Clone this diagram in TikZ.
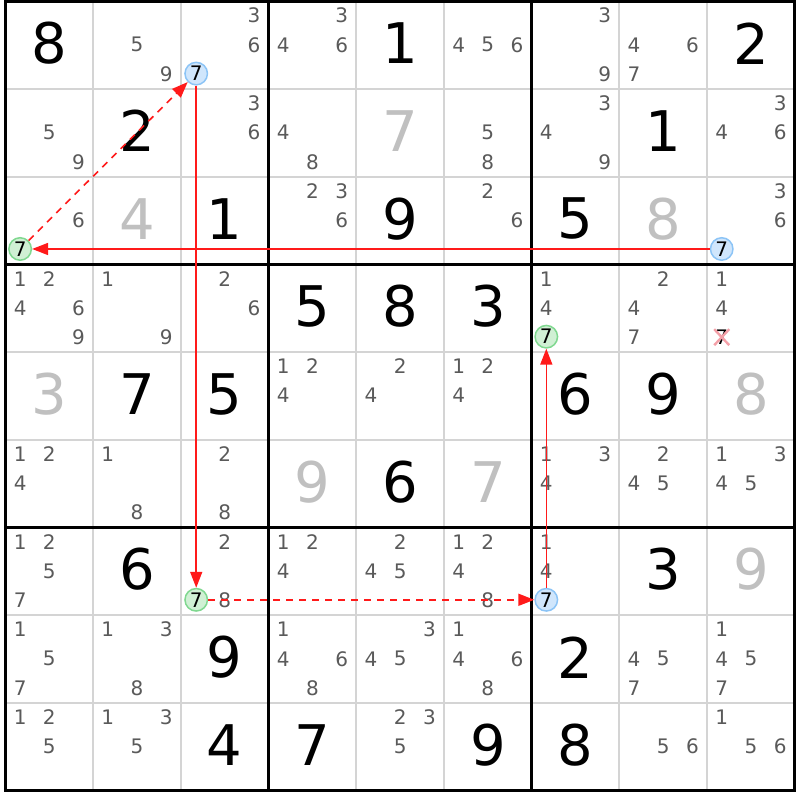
\documentclass[tikz,border=0pt]{standalone}
\usepackage{fontspec}
\setmainfont{DejaVu Sans}
\usetikzlibrary{arrows.meta}
\definecolor{thinc}{HTML}{D4D4D4}
\definecolor{candc}{HTML}{5A5A5A}
\definecolor{solvedc}{HTML}{C0C0C0}
\definecolor{bfill}{HTML}{D0E6FC}
\definecolor{bline}{HTML}{8CC4F6}
\definecolor{gfill}{HTML}{D0F0D4}
\definecolor{gline}{HTML}{80D890}
\definecolor{xmarkc}{HTML}{F4A0A8}
\definecolor{linkc}{HTML}{FF1A1A}
\begin{document}
\begin{tikzpicture}[x=1pt,y=-1pt,
  thinline/.style={draw=thinc,line width=2pt},
  thickline/.style={draw=black,line width=3pt},
  given/.style={font=\fontsize{56}{60}\selectfont,text=black,inner sep=0pt},
  placed/.style={given,text=solvedc},
  candi/.style={font=\fontsize{20}{22}\selectfont,text=candc,inner sep=0pt},
  bcirc/.style={circle,draw=bline,fill=bfill,line width=1.5pt,minimum size=22.5pt,inner sep=0pt,font=\fontsize{20}{22}\selectfont,text=black},
  gcirc/.style={circle,draw=gline,fill=gfill,line width=1.5pt,minimum size=22.5pt,inner sep=0pt,font=\fontsize{20}{22}\selectfont,text=black},
  link/.style={draw=linkc,line width=1.6pt,-{Triangle[length=16pt,width=12pt]}},
  dlink/.style={link,dash pattern=on 7pt off 6pt}]
\def\X{5.5}\def\Y{1.5}\def\S{87.7}
\useasboundingbox (0,0) rectangle (800,800);
\fill[white] (0,0) rectangle (800,800);
% thin lines
\foreach \i in {1,2,4,5,7,8}{
  \draw[thinline] ({\X+\i*\S},\Y) -- ({\X+\i*\S},{\Y+9*\S});
  \draw[thinline] (\X,{\Y+\i*\S}) -- ({\X+9*\S},{\Y+\i*\S});
}
\foreach \i in {0,3,6,9}{
  \draw[thickline] ({\X+\i*\S},{\Y-1.5}) -- ({\X+\i*\S},{\Y+9*\S+1.5});
  \draw[thickline] ({\X-1.5},{\Y+\i*\S}) -- ({\X+9*\S+1.5},{\Y+\i*\S});
}
% given digits
\foreach \r/\c/\d in {0/0/8,0/4/1,0/8/2,1/1/2,1/7/1,2/2/1,2/4/9,2/6/5,3/3/5,3/4/8,3/5/3,4/1/7,4/2/5,4/6/6,4/7/9,5/4/6,6/1/6,6/7/3,7/2/9,7/6/2,8/2/4,8/3/7,8/5/9,8/6/8}{
  \node[given] (v\r\c) at ({\X+(\c+0.5)*\S},{\Y+(\r+0.5)*\S-2}) {\d};
}
\foreach \r/\c/\d in {1/4/7,2/1/4,2/7/8,4/0/3,4/8/8,5/3/9,5/5/7,6/8/9}{
  \node[placed] (v\r\c) at ({\X+(\c+0.5)*\S},{\Y+(\r+0.5)*\S-2}) {\d};
}
% candidates
\foreach \r/\c/\ds in {0/1/{5,9},0/2/{3,6},0/3/{3,4,6},0/5/{4,5,6},0/6/{3,9},0/7/{4,6,7},
  1/0/{5,9},1/2/{3,6},1/3/{4,8},1/5/{5,8},1/6/{3,4,9},1/8/{3,4,6},
  2/0/{6},2/3/{2,3,6},2/5/{2,6},2/8/{3,6},
  3/0/{1,2,4,6,9},3/1/{1,9},3/2/{2,6},3/6/{1,4},3/7/{2,4,7},3/8/{1,4},
  4/3/{1,2,4},4/4/{2,4},4/5/{1,2,4},
  5/0/{1,2,4},5/1/{1,8},5/2/{2,8},5/6/{1,3,4},5/7/{2,4,5},5/8/{1,3,4,5},
  6/0/{1,2,5,7},6/2/{2,8},6/3/{1,2,4},6/4/{2,4,5},6/5/{1,2,4,8},6/6/{1,4},
  7/0/{1,5,7},7/1/{1,3,8},7/3/{1,4,6,8},7/4/{3,4,5},7/5/{1,4,6,8},7/7/{4,5,7},7/8/{1,4,5,7},
  8/0/{1,2,5},8/1/{1,3,5},8/4/{2,3,5},8/7/{5,6},8/8/{1,5,6}}{
  \foreach \d in \ds {
    \pgfmathtruncatemacro\cc{mod(\d-1,3)}
    \pgfmathtruncatemacro\rr{div(\d-1,3)}
    \node[candi] (k\r\c\d) at ({\X+\c*\S+(\cc+0.5)*\S/3},{\Y+\r*\S+(\rr+0.5)*\S/3-0.5}) {\d};
  }
}
% eliminated candidate
\node[candi,text=black] (k387) at ({\X+8*\S+\S/6},{\Y+3*\S+2.5*\S/3-0.5}) {7};
\draw[xmarkc,line width=2.4pt] ([shift={(-7.5,-8)}]k387.center) -- ([shift={(7.5,8)}]k387.center)
  ([shift={(-7.5,8)}]k387.center) -- ([shift={(7.5,-8)}]k387.center);
% chain nodes
\node[bcirc] (b1) at ({\X+2*\S+\S/6+0.7},{\Y+0*\S+2.5*\S/3-1}) {7};
\node[bcirc] (b2) at ({\X+8*\S+\S/6},{\Y+2*\S+2.5*\S/3-1}) {7};
\node[bcirc] (b3) at ({\X+6*\S+\S/6},{\Y+6*\S+2.5*\S/3-1}) {7};
\node[gcirc] (g1) at ({\X+0*\S+\S/6},{\Y+2*\S+2.5*\S/3-1}) {7};
\node[gcirc] (g2) at ({\X+2*\S+\S/6+0.7},{\Y+6*\S+2.5*\S/3-1}) {7};
\node[gcirc] (g3) at ({\X+6*\S+\S/6},{\Y+3*\S+2.5*\S/3-1}) {7};
% links
\draw[link] (b2) -- (g1);
\draw[dlink] (g1) -- (b1);
\draw[link] (b1) -- (g2);
\draw[dlink] (g2) -- (b3);
\draw[link] (b3) -- (g3);
\end{tikzpicture}
\end{document}
